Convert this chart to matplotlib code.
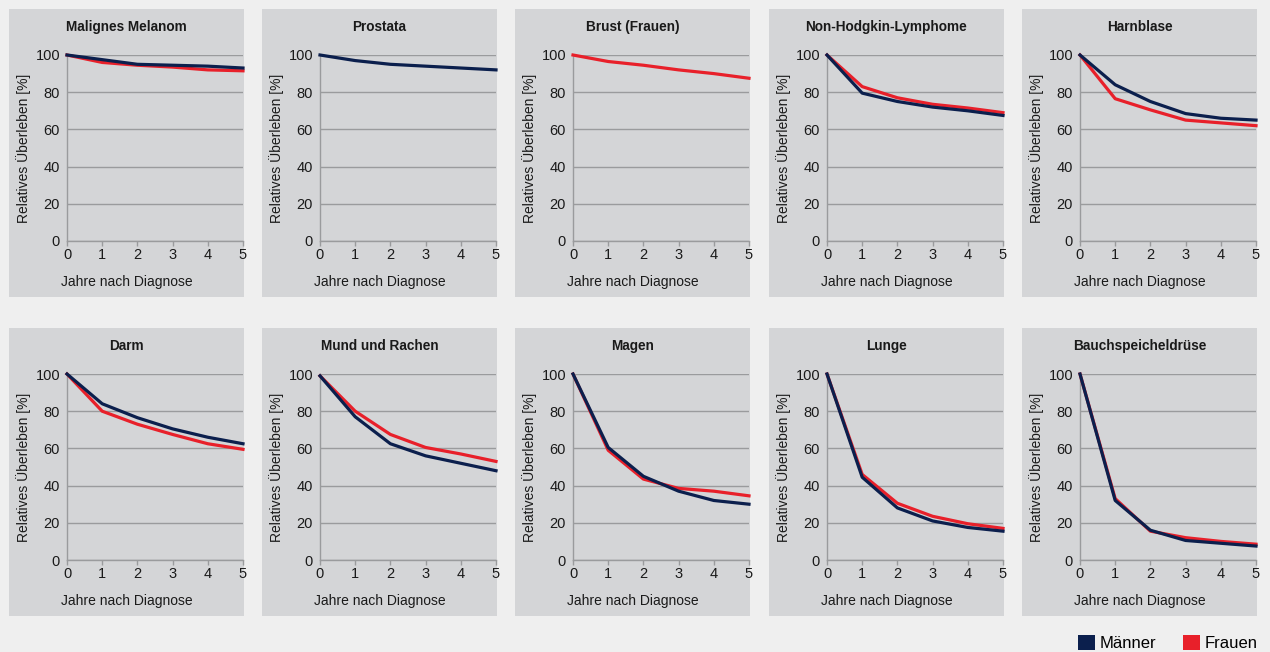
import matplotlib
matplotlib.use("Agg")
import matplotlib.pyplot as plt
from matplotlib.patches import Rectangle, Patch

plt.rcParams['font.family'] = ['Liberation Sans', 'DejaVu Sans']

years = [0, 1, 2, 3, 4, 5]
titles = ["Malignes Melanom", "Prostata", "Brust (Frauen)", "Non-Hodgkin-Lymphome", "Harnblase",
          "Darm", "Mund und Rachen", "Magen", "Lunge", "Bauchspeicheldrüse"]

maenner = {
    "Malignes Melanom": [100, 97.5, 95, 94.5, 94, 93],
    "Prostata": [100, 97, 95, 94, 93, 92],
    "Brust (Frauen)": None,
    "Non-Hodgkin-Lymphome": [100, 79.5, 75, 72, 70, 67.5],
    "Harnblase": [100, 84, 75, 68.5, 66, 65],
    "Darm": [100, 84, 76.5, 70.5, 66, 62.5],
    "Mund und Rachen": [99, 77, 62.5, 56, 52, 48],
    "Magen": [100, 60.5, 45, 37, 32, 30],
    "Lunge": [100, 44.5, 28, 21, 17.5, 15.5],
    "Bauchspeicheldrüse": [100, 32, 16, 10.5, 9, 7.5],
}
frauen = {
    "Malignes Melanom": [100, 96, 94.5, 93.5, 92, 91.5],
    "Prostata": None,
    "Brust (Frauen)": [100, 96.5, 94.5, 92, 90, 87.5],
    "Non-Hodgkin-Lymphome": [100, 83, 77, 73.5, 71.5, 69],
    "Harnblase": [100, 76.5, 70.5, 65, 63.5, 62],
    "Darm": [100, 80, 73, 67.5, 62.5, 59.5],
    "Mund und Rachen": [99, 80, 67.5, 60.5, 57, 53],
    "Magen": [100, 59, 43.5, 38.5, 37, 34.5],
    "Lunge": [100, 46, 30.5, 23.5, 19.5, 17],
    "Bauchspeicheldrüse": [100, 33, 15.5, 12, 10, 8.5],
}
yticks = [0, 20, 40, 60, 80, 100]
legend_labels = ["Männer", "Frauen"]

NAVY = "#0b1f4d"
RED = "#e8202a"
PANEL = "#d4d5d7"
GRID = "#9a9b9d"
TXT = "#1a1a1a"

W, H = 1270, 652
fig = plt.figure(figsize=(W / 100, H / 100), dpi=100, facecolor="#efefef")

col_x = [9, 262, 515, 769, 1022]
row_y = [9, 328]
pw, ph = 235, 288

def fx(px):
    return px / W

def fy(py):
    return 1 - py / H

for i, t in enumerate(titles):
    r, c = divmod(i, 5)
    x0, y0 = col_x[c], row_y[r]
    fig.add_artist(Rectangle((fx(x0), fy(y0 + ph)), pw / W, ph / H,
                             transform=fig.transFigure, facecolor=PANEL,
                             edgecolor="none", zorder=0))
    ax_left = x0 + 58
    ax_w = 176
    ax_top = y0 + 46
    ax_h = 186
    ax = fig.add_axes([fx(ax_left), fy(ax_top + ax_h), ax_w / W, ax_h / H])
    ax.set_facecolor("none")
    ax.set_xlim(0, 5)
    ax.set_ylim(0, 100)
    ax.set_yticks(yticks)
    ax.set_xticks(years)
    ax.grid(axis="y", color=GRID, lw=1.0)
    ax.set_axisbelow(True)
    for s in ["top", "right"]:
        ax.spines[s].set_visible(False)
    for s in ["left", "bottom"]:
        ax.spines[s].set_color(GRID)
        ax.spines[s].set_linewidth(1.0)
    ax.tick_params(axis="both", colors=GRID, labelcolor=TXT, labelsize=10.5,
                   length=3.5, width=1.0, pad=1.5)
    ax.tick_params(axis="y", length=0, pad=5)
    if frauen[t] is not None:
        ax.plot(years, frauen[t], color=RED, lw=2.3, solid_joinstyle="round", clip_on=False, zorder=3)
    if maenner[t] is not None:
        ax.plot(years, maenner[t], color=NAVY, lw=2.3, solid_joinstyle="round", clip_on=False, zorder=4)
    cx = x0 + pw / 2
    fig.text(fx(cx), fy(y0 + 18), t, ha="center", va="center",
             fontsize=9.8, fontweight="bold", color=TXT)
    fig.text(fx(cx), fy(y0 + 273), "Jahre nach Diagnose", ha="center",
             va="center", fontsize=10, color=TXT)
    fig.text(fx(x0 + 15), fy(ax_top + ax_h / 2), "Relatives Überleben [%]",
             rotation=90, ha="center", va="center", fontsize=10, color=TXT)

handles = [Patch(facecolor=NAVY, edgecolor="none"), Patch(facecolor=RED, edgecolor="none")]
fig.legend(handles, legend_labels, loc="lower right",
           bbox_to_anchor=(fx(1258), fy(651)), ncol=2, frameon=False,
           fontsize=12, handlelength=1.0, handleheight=1.05,
           handletextpad=0.3, columnspacing=1.6, borderaxespad=0, borderpad=0)

fig.savefig("out.png", dpi=100, facecolor=fig.get_facecolor())
